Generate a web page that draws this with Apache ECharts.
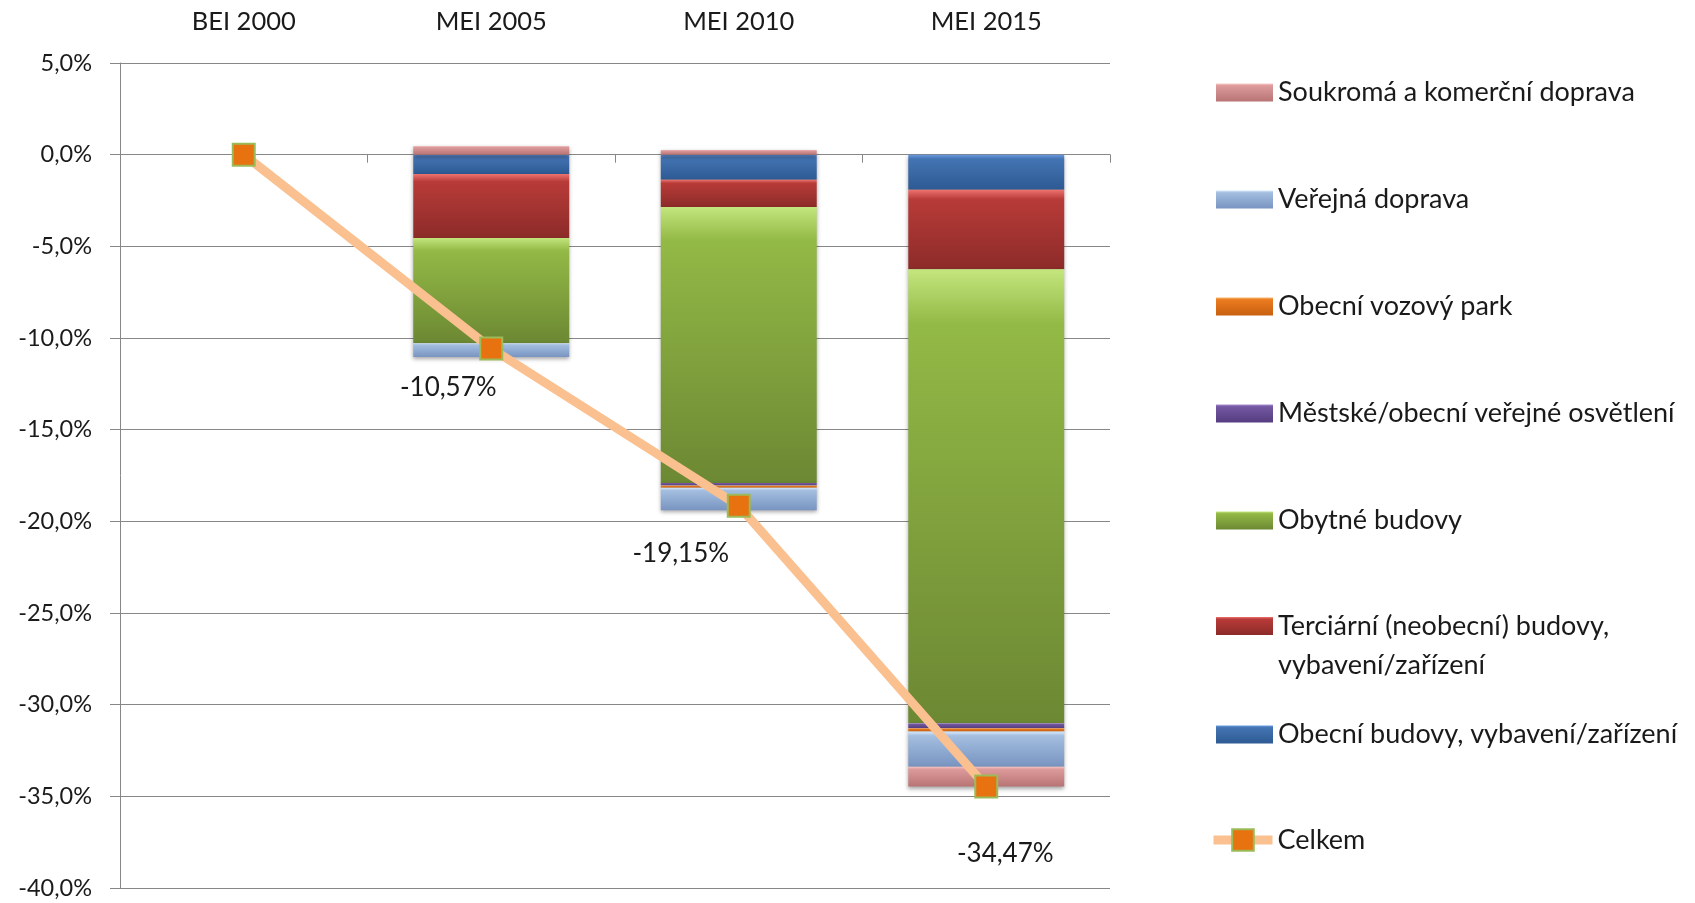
<!DOCTYPE html>
<html>
<head>
<meta charset="utf-8">
<script src="https://cdn.jsdelivr.net/npm/echarts@6/dist/echarts.min.js"></script>
<style>
  html, body { margin: 0; padding: 0; background: #fff; }
  #main { width: 1695px; height: 903px; }
</style>
</head>
<body>
<div id="main"></div>
<script>
// data (percent change vs. BEI 2000)
var categories = ['BEI 2000', 'MEI 2005', 'MEI 2010', 'MEI 2015'];
var obecniBudovy = [0, -1.05, -1.37, -1.91];
var terciarni = [0, -3.49, -1.48, -4.34];
var obytne = [0, -5.74, -15.06, -24.77];
var mestskeOsvetleni = [0, 0, -0.14, -0.27];
var vozovyPark = [0, 0, -0.12, -0.18];
var verejnaDoprava = [0, -0.76, -1.23, -1.91];
var soukromaDoprava = [0, 0.47, 0.25, -1.09];
var celkem = [0, -10.57, -19.15, -34.47];

var FONT = 'Lato, "Open Sans", sans-serif';

function grad(light, base, dark) {
  return new echarts.graphic.LinearGradient(0, 0, 0, 1, [
    { offset: 0, color: light },
    { offset: 0.12, color: base },
    { offset: 1, color: dark }
  ]);
}

// stacked from zero downwards
var barDefs = [
  { name: 'Obecní budovy, vybavení/zařízení', data: obecniBudovy, c: ['#6A9BE0', '#4474B3', '#2D5A93'] },
  { name: 'Terciární (neobecní) budovy, vybavení/zařízení', data: terciarni, c: ['#EE7470', '#B83B38', '#8C2B29'] },
  { name: 'Obytné budovy', data: obytne, c: ['#C4E67E', '#93B946', '#6C8833'] },
  { name: 'Městské/obecní veřejné osvětlení', data: mestskeOsvetleni, c: ['#A88CD0', '#7458A2', '#553D80'] },
  { name: 'Obecní vozový park', data: vozovyPark, c: ['#FBB873', '#EB7B1F', '#C86010'] },
  { name: 'Veřejná doprava', data: verejnaDoprava, c: ['#D6E8FA', '#A4BEE0', '#7894C0'] },
  { name: 'Soukromá a komerční doprava', data: soukromaDoprava, c: ['#F8C9C9', '#DE9B9B', '#B87474'] }
];

var series = barDefs.map(function (d) {
  return {
    name: d.name,
    type: 'bar',
    stack: 'total',
    barWidth: '63%',
    data: d.data,
    itemStyle: {
      color: grad(d.c[0], d.c[1], d.c[2]),
      shadowColor: 'rgba(0,0,0,0.35)',
      shadowBlur: 4,
      shadowOffsetY: 2
    },
    emphasis: { disabled: true }
  };
});

// label placement relative to each point (style only)
var labelOffsets = [[0, 0], [-43, 39], [-58, 48], [19, 67]];

series.push({
  name: 'Celkem',
  type: 'line',
  data: celkem.map(function (v, i) {
    return {
      value: v,
      label: { show: i > 0, offset: labelOffsets[i] }
    };
  }),
  z: 5,
  symbol: 'rect',
  symbolSize: 22,
  lineStyle: { color: '#FAC090', width: 9 },
  itemStyle: { color: '#E8720F', borderColor: '#9BBB59', borderWidth: 2 },
  label: {
    position: 'inside',
    fontFamily: FONT,
    fontSize: 26,
    color: '#1a1a1a',
    formatter: function (p) { return p.value.toFixed(2).replace('.', ',') + '%'; }
  },
  emphasis: { disabled: true }
});

// legend: one block per item so every entry lands on its own row
var legendOrder = [
  'Soukromá a komerční doprava',
  'Veřejná doprava',
  'Obecní vozový park',
  'Městské/obecní veřejné osvětlení',
  'Obytné budovy',
  'Terciární (neobecní) budovy, vybavení/zařízení',
  'Obecní budovy, vybavení/zařízení',
  'Celkem'
];
var legendCenters = [88, 195, 302, 409, 516, 626, 730, 840];

var legends = legendOrder.map(function (name, i) {
  var twoLine = name.indexOf('Terciární') === 0;
  var isLine = name === 'Celkem';
  var lg = {
    data: [{ name: name, icon: isLine ? undefined : 'rect' }],
    orient: 'vertical',
    left: isLine ? 1209 : 1216,
    top: twoLine ? legendCenters[i] - 58.5 : legendCenters[i] - (isLine ? 13.5 : 9),
    itemWidth: isLine ? 59 : 57,
    itemHeight: isLine ? 27 : 18,
    itemGap: 0,
    padding: 0,
    selectedMode: false,
    formatter: function (n) {
      // blank first line keeps the icon level with the first text row
      return twoLine ? '\u00a0\nTerciární (neobecní) budovy,\nvybavení/zařízení' : n;
    },
    textStyle: {
      fontFamily: FONT,
      fontSize: 27,
      color: '#1a1a1a',
      lineHeight: twoLine ? 39 : (isLine ? 27 : 18)
    }
  };
  if (isLine) {
    lg.lineStyle = { width: 9, color: '#FAC090' };
  }
  return lg;
});

var myChart = echarts.init(document.getElementById('main'));
myChart.setOption({
  animation: false,
  backgroundColor: '#fff',
  grid: { left: 120, right: 585, top: 63, bottom: 15 },
  legend: legends,
  xAxis: [
    {
      type: 'category',
      data: categories,
      position: 'top',
      axisLine: { show: false, onZero: false },
      axisTick: { show: false },
      axisLabel: { margin: 28, fontFamily: FONT, fontSize: 25.5, color: '#1a1a1a' }
    },
    {
      type: 'category',
      data: categories,
      position: 'bottom',
      axisLine: { onZero: true, lineStyle: { color: '#878787', width: 1 } },
      axisTick: { show: true, length: 8, lineStyle: { color: '#878787' } },
      axisLabel: { show: false }
    }
  ],
  yAxis: {
    type: 'value',
    min: -40,
    max: 5,
    interval: 5,
    axisLine: { show: true, lineStyle: { color: '#878787', width: 1 } },
    axisTick: { show: true, length: 10, lineStyle: { color: '#878787' } },
    splitLine: { lineStyle: { color: '#878787', width: 1 } },
    axisLabel: {
      margin: 28,
      fontFamily: FONT,
      fontSize: 23.5,
      color: '#1a1a1a',
      formatter: function (v) { return v.toFixed(1).replace('.', ',') + '%'; }
    }
  },
  series: series
});
</script>
</body>
</html>
